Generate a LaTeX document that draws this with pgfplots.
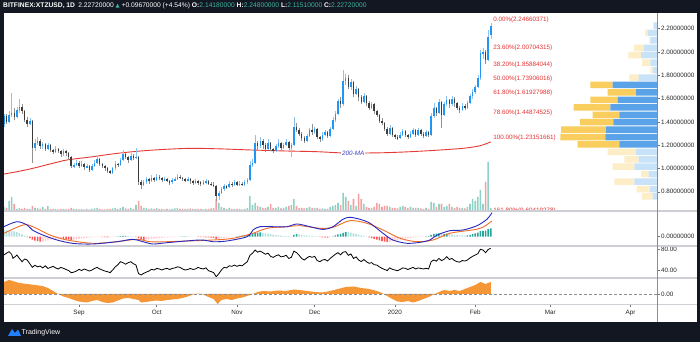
\documentclass[border=0pt]{standalone}
\usepackage{pgfplots}
\pgfplotsset{compat=1.18}
\usepackage{pgfplotstable}
\usepackage{fontspec}
\setmainfont{Liberation Sans}
\newfontfamily\dejavu{DejaVu Sans}

\definecolor{bgdark}{RGB}{19,23,34}
\definecolor{sepc}{RGB}{205,207,212}
\definecolor{fibred}{RGB}{230,50,50}
\definecolor{maRed}{RGB}{229,57,53}
\definecolor{malabel}{RGB}{60,60,200}
\definecolor{upBody}{RGB}{33,150,243}
\definecolor{upWick}{RGB}{140,195,240}
\definecolor{dnBody}{RGB}{60,60,60}
\definecolor{dnWick}{RGB}{145,145,145}
\definecolor{volUp}{RGB}{142,209,198}
\definecolor{volDn}{RGB}{244,160,160}
\definecolor{vpBlueS}{RGB}{91,163,232}
\definecolor{vpYelS}{RGB}{250,205,95}
\definecolor{vpBlueL}{RGB}{200,226,248}
\definecolor{vpYelL}{RGB}{253,238,200}
\definecolor{macdBlue}{RGB}{40,40,190}
\definecolor{sigOr}{RGB}{240,110,40}
\definecolor{histA}{RGB}{38,166,154}
\definecolor{histB}{RGB}{178,223,219}
\definecolor{histC}{RGB}{255,82,82}
\definecolor{histD}{RGB}{255,205,210}
\definecolor{oscOr}{RGB}{245,150,55}
\definecolor{tvteal}{RGB}{60,180,160}
\definecolor{tvblue}{RGB}{41,98,255}

\newcommand\fs{\fontsize{6.3}{7.5}\selectfont}

\pgfplotstableread{
d o h l c v hh hc
-29 1.38 1.47 1.36 1.45 4 6.5 1
-28 1.45 1.47 1.38 1.40 3 6.3 1
-27 1.40 1.49 1.39 1.46 10 6.0 1
-26 1.46 1.65 1.44 1.48 14 5.8 1
-25 1.48 1.52 1.42 1.44 7 5.2 1
-24 1.44 1.53 1.43 1.50 2 4.5 1
-23 1.50 1.60 1.48 1.53 3 3.5 1
-22 1.53 1.55 1.47 1.49 2 2.2 1
-21 1.49 1.50 1.40 1.42 3 1.0 1
-20 1.42 1.44 1.36 1.38 2 -0.5 2
-19 1.38 1.43 1.37 1.41 2 -1.5 2
-18 1.41 1.42 1.05 1.18 5 -3.0 2
-17 1.18 1.25 1.15 1.22 3 -4.0 2
-16 1.22 1.27 1.20 1.24 3 -4.5 2
-15 1.24 1.25 1.17 1.19 2 -5.0 2
-14 1.19 1.23 1.17 1.21 4 -4.8 3
-13 1.21 1.22 1.15 1.17 2 -4.2 3
-12 1.17 1.22 1.16 1.20 5 -3.8 3
-11 1.20 1.21 1.14 1.16 2 -3.0 3
-10 1.16 1.17 1.12 1.14 2 -2.5 3
-9 1.14 1.19 1.13 1.17 2 -2.2 3
-8 1.17 1.18 1.13 1.15 1.5 -2.0 3
-7 1.15 1.16 1.10 1.12 2 -2.0 3
-6 1.12 1.17 1.11 1.15 2 -2.2 2
-5 1.15 1.16 1.11 1.13 1.5 -2.8 2
-4 1.13 1.14 1.08 1.10 2 -3.0 2
-3 1.10 1.11 1.00 1.02 3 -3.3 2
-2 1.02 1.05 1.00 1.03 2 -3.0 3
-1 1.03 1.07 1.02 1.05 2 -2.6 3
0 1.05 1.06 1.00 1.02 1.5 -2.2 3
1 1.02 1.06 1.01 1.04 2 -1.9 3
2 1.04 1.05 0.99 1.01 1.5 -1.6 3
3 1.01 1.04 1.00 1.02 2 -1.3 3
4 1.02 1.03 0.97 0.99 1.5 -1.0 3
5 0.99 1.04 0.98 1.02 2 -0.8 3
6 1.02 1.07 1.01 1.05 2.5 -0.5 3
7 1.05 1.10 1.04 1.08 3 -0.3 3
8 1.08 1.09 1.02 1.04 2 -0.3 3
9 1.04 1.05 1.00 1.02 1.5 -0.4 2
10 1.02 1.03 0.98 1.00 1.5 -0.5 2
11 1.00 1.01 0.96 0.98 2 -0.6 2
12 0.98 0.99 0.95 0.96 2 -0.5 3
13 0.96 1.01 0.95 1.00 2.5 -0.3 3
14 1.00 1.06 0.99 1.04 3 0.1 0
15 1.04 1.05 1.01 1.03 2 0.3 0
16 1.03 1.09 1.02 1.07 3 0.5 0
17 1.07 1.16 1.06 1.12 4 0.7 0
18 1.12 1.13 1.08 1.10 2.5 0.8 0
19 1.10 1.11 1.05 1.07 2 0.7 1
20 1.07 1.13 1.06 1.11 3 0.5 1
21 1.11 1.12 1.07 1.09 2 0.3 1
22 1.09 1.175 1.08 1.10 6 -0.2 2
23 1.10 1.11 0.86 0.88 10 -1.5 2
24 0.88 0.90 0.82 0.86 5 -2.8 2
25 0.86 0.90 0.85 0.88 3 -3.3 2
26 0.88 0.93 0.87 0.91 3 -3.0 3
27 0.91 0.92 0.87 0.89 2 -2.6 3
28 0.89 0.94 0.88 0.92 2.5 -2.2 3
29 0.92 0.93 0.88 0.90 2 -1.9 3
30 0.90 0.95 0.89 0.93 3 -1.6 3
31 0.93 0.94 0.90 0.92 2 -1.3 3
32 0.92 0.93 0.88 0.90 2 -1.1 3
33 0.90 0.93 0.89 0.91 1.5 -0.9 3
34 0.91 0.92 0.88 0.89 2 -0.7 3
35 0.89 0.90 0.86 0.88 1.5 -0.6 3
36 0.88 0.92 0.87 0.90 2 -0.4 3
37 0.90 0.93 0.89 0.91 2.5 -0.3 3
38 0.91 0.95 0.90 0.93 3 -0.1 3
39 0.93 0.94 0.91 0.92 2 0.1 0
40 0.92 0.93 0.89 0.91 2 0.2 0
41 0.91 0.92 0.88 0.90 2 0.3 0
42 0.90 0.93 0.89 0.91 2 0.3 1
43 0.91 0.92 0.87 0.89 2.5 0.2 1
44 0.89 0.90 0.86 0.88 2 0.1 1
45 0.88 0.91 0.87 0.89 2 0.05 1
46 0.89 0.90 0.86 0.88 2 -0.2 2
47 0.88 0.89 0.85 0.87 2 -0.4 2
48 0.87 0.90 0.86 0.88 1.5 -0.5 2
49 0.88 0.91 0.87 0.89 2 -0.6 2
50 0.89 0.90 0.86 0.87 2 -0.8 2
51 0.87 0.88 0.85 0.86 2.5 -1.0 2
52 0.86 0.88 0.84 0.85 3 -1.3 2
53 0.85 0.86 0.72 0.76 12 -2.2 2
54 0.76 0.81 0.73 0.79 8 -2.0 3
55 0.79 0.84 0.78 0.82 4 -1.6 3
56 0.82 0.87 0.81 0.85 3 -1.2 3
57 0.85 0.86 0.82 0.84 2 -0.9 3
58 0.84 0.89 0.83 0.87 3 -0.6 3
59 0.87 0.88 0.84 0.86 2 -0.3 3
60 0.86 0.90 0.85 0.88 2 0.1 0
61 0.88 0.89 0.85 0.86 2 0.4 0
62 0.86 0.89 0.85 0.87 2 0.7 0
63 0.87 0.88 0.85 0.86 1.5 1.0 0
64 0.86 0.90 0.85 0.88 2 1.2 0
65 0.88 0.92 0.87 0.90 3 1.5 0
66 0.90 1.06 0.89 1.03 15 2.2 0
67 1.03 1.08 1.01 1.05 6 3.0 0
68 1.05 1.29 1.04 1.22 8 3.8 0
69 1.22 1.24 1.16 1.19 5 4.0 0
70 1.19 1.27 1.18 1.24 4 4.2 0
71 1.24 1.25 1.17 1.20 3 3.8 1
72 1.20 1.22 1.14 1.17 3 3.3 1
73 1.17 1.25 1.16 1.22 4 2.9 1
74 1.22 1.23 1.15 1.17 7 2.5 1
75 1.17 1.18 1.13 1.15 3 2.0 1
76 1.15 1.21 1.14 1.19 3 1.6 1
77 1.19 1.25 1.18 1.22 4 1.3 1
78 1.22 1.23 1.16 1.18 2.5 1.0 1
79 1.18 1.22 1.17 1.20 3 0.8 1
80 1.20 1.25 1.19 1.23 4 0.6 1
81 1.23 1.24 1.16 1.18 5 0.5 1
82 1.18 1.22 1.10 1.20 6 0.4 1
83 1.20 1.44 1.19 1.36 12 1.8 0
84 1.36 1.39 1.31 1.33 5 2.6 0
85 1.33 1.35 1.28 1.30 3 2.3 1
86 1.30 1.31 1.24 1.26 3 1.8 1
87 1.26 1.28 1.22 1.24 2.5 1.3 1
88 1.24 1.30 1.23 1.28 3 1.0 1
89 1.28 1.35 1.27 1.33 4 0.9 1
90 1.33 1.38 1.29 1.31 3 0.8 1
91 1.31 1.36 1.30 1.34 3 0.6 1
92 1.34 1.35 1.25 1.27 3 0.2 1
93 1.27 1.28 1.23 1.25 2 -0.3 2
94 1.25 1.31 1.24 1.29 2.5 -0.7 2
95 1.29 1.33 1.28 1.31 2 -0.8 2
96 1.31 1.32 1.26 1.28 2 -1.0 2
97 1.28 1.36 1.27 1.34 4 -0.6 3
98 1.34 1.44 1.33 1.42 5 0.2 0
99 1.42 1.49 1.40 1.47 6 1.2 0
100 1.47 1.60 1.46 1.58 8 2.2 0
101 1.58 1.61 1.52 1.55 6 2.8 0
102 1.55 1.845 1.54 1.75 18 3.8 0
103 1.75 1.81 1.72 1.78 14 4.6 0
104 1.78 1.80 1.68 1.70 10 4.5 1
105 1.70 1.77 1.67 1.74 6 4.0 1
106 1.74 1.75 1.61 1.64 12 3.2 1
107 1.64 1.71 1.63 1.68 5 2.6 1
108 1.68 1.69 1.58 1.61 17 2.0 1
109 1.61 1.63 1.55 1.57 12 1.4 1
110 1.57 1.65 1.56 1.62 7 0.8 1
111 1.62 1.63 1.54 1.56 4 0.2 1
112 1.56 1.58 1.50 1.52 3 -0.6 2
113 1.52 1.57 1.51 1.55 3 -1.4 2
114 1.55 1.56 1.47 1.49 4 -2.2 2
115 1.49 1.50 1.44 1.46 8 -3.0 2
116 1.46 1.47 1.39 1.41 7 -3.8 2
117 1.41 1.43 1.37 1.39 4 -4.5 2
118 1.39 1.40 1.32 1.34 5 -5.0 2
119 1.34 1.36 1.28 1.30 5 -5.3 2
120 1.30 1.37 1.29 1.35 4 -5.2 3
121 1.35 1.36 1.27 1.29 3 -4.8 3
122 1.29 1.30 1.25 1.27 3 -4.2 3
123 1.27 1.29 1.245 1.26 2.5 -3.6 3
124 1.26 1.31 1.25 1.29 4 -3.0 3
125 1.29 1.34 1.28 1.32 5 -2.5 3
126 1.32 1.33 1.27 1.29 4 -2.0 3
127 1.29 1.30 1.25 1.27 3 -1.6 3
128 1.27 1.32 1.26 1.30 4 -1.2 3
129 1.30 1.35 1.29 1.33 3 -0.9 3
130 1.33 1.34 1.27 1.29 3 -0.6 3
131 1.29 1.35 1.28 1.33 3 -0.4 3
132 1.33 1.34 1.28 1.30 2.5 -0.2 3
133 1.30 1.31 1.26 1.28 2 -0.1 3
134 1.28 1.33 1.27 1.31 3 0.2 0
135 1.31 1.32 1.27 1.29 2 0.6 0
136 1.29 1.48 1.28 1.45 9 1.8 0
137 1.45 1.56 1.43 1.52 8 2.8 0
138 1.52 1.53 1.45 1.48 4 3.0 0
139 1.48 1.60 1.47 1.57 7 3.3 0
140 1.57 1.58 1.35 1.46 7 2.8 1
141 1.46 1.57 1.45 1.55 4 2.9 0
142 1.55 1.62 1.54 1.59 5 3.1 0
143 1.59 1.60 1.52 1.55 7 2.6 1
144 1.55 1.62 1.54 1.60 4 2.3 1
145 1.60 1.61 1.53 1.56 3 1.9 1
146 1.56 1.57 1.50 1.52 4 1.6 1
147 1.52 1.54 1.48 1.50 3 1.3 1
148 1.50 1.56 1.49 1.54 3 1.2 1
149 1.54 1.55 1.50 1.52 2.5 1.1 1
150 1.52 1.58 1.51 1.56 4 1.3 0
151 1.56 1.64 1.55 1.62 7 1.9 0
152 1.62 1.68 1.60 1.66 12 2.6 0
153 1.66 1.72 1.64 1.70 10 3.2 0
154 1.70 1.80 1.69 1.78 14 4.0 0
155 1.78 2.02 1.76 1.99 21 5.5 0
156 1.99 2.03 1.94 2.00 7 5.8 0
157 2.00 2.02 1.90 1.93 29 6.0 0
158 1.93 2.19 1.92 2.13 49 7.5 0
159 2.1418 2.248 2.1151 2.2272 3 8.3 0
}\candles

\pgfplotstableread{
d p
-29 0.952
-20 0.990
-10 1.045
-4.6 1.073
5 1.100
13 1.125
20.8 1.144
30 1.160
42.9 1.173
55 1.168
66 1.159
80 1.150
91.9 1.144
102.7 1.133
115 1.134
124 1.140
135.5 1.153
148.3 1.173
154.8 1.195
159 1.228
}\maTab

\pgfplotstableread{
d m
-29 10
-24 15
-20 11.7
-18 6.7
-14 1.7
-8.5 -3.3
-2.3 -6.7
5.4 -7.3
14.7 -5
20.8 -2.6
24.7 -5
28.6 -7.3
34 -6
46.7 -3.3
51.7 -5
57.1 -4.3
64.9 0
67.2 6.7
69.9 10
74.9 10
80.3 10
84.2 12.7
89.2 10
94.2 7.3
98.1 10
101.9 17.4
104.6 19.4
108.5 17.4
112.4 13.4
117.4 3.4
121.2 -3.3
126.6 -6.6
131.7 -5.6
135.5 -3.3
138.2 1.5
143.2 6
148.3 6.7
153.7 11
157.5 17.4
159.5 24
}\macdTab

\pgfplotstableread{
d s
-29 3.4
-21.6 11.7
-17.8 10
-11.2 1.7
-4.6 -3.3
5.4 -6.6
14.7 -5
22.4 -2.6
27.4 -5
34 -5
51.7 -3.3
59.5 -1.6
67.2 3.4
72.6 8.4
80.3 10
85.3 11
93.1 8.4
98.1 9.4
104.6 16
111.2 13.4
117.4 6.7
124 -1.6
130.5 -5
136.7 -3.3
143.2 3.4
149.8 6
153.7 7.5
156 9.5
159.5 15.7
}\sigTab

\pgfplotstableread{
d r
-29 68.6
-28 72
-27 74.9
-26 70
-25.5 62.3
-24.5 66
-24 68.6
-23 62
-22 55.8
-21 61
-20 59
-19 52
-18 45.1
-17 49
-16 46
-15 47.6
-14 44
-13 48
-12 43
-11 45
-10 47
-9 44
-8 42
-7 45
-6 43.2
-5 41
-4 39
-3 34.9
-2 36
-1 38
0 41.3
1 39
2 42
3 40
4 38
5 40
6 43
7 45
8 42
9 40
10 38
11 36.8
12 35
13 40
14 46
15 50
16 55.8
17 53.9
18 51
19 54
20 55.8
21 52
22 49.5
23 33
24 30.5
25 33.7
26 36
27 38
28 41.3
29 40
30 43
31 42
32 40
33 42
34 43.2
35 41
36 43
37 44
38 46
39 45.1
40 42
41 40
42 41
43 43
44 41
45 42
46 45
47 43
48 42
49 44
50 38.7
51 37
52 35
53 27.2
54 33
55 40
56 45
57 44
58 48
59 47
60 49.5
61 47
62 49
63 48
64 52
65 55.8
66 68
67 72
68 78
69 74
70 76
71 73
72 70
73 72
74 66
75 64
76 67
77 69
78 65
79 66
80 68
81 62
82 64.2
83 76
84 73
85 68
86 62
87 59
88 63
89 66
90 64.2
91 66
92 58
93 55.8
94 59
95 60
96 57
97 62
98 66
99 70
100 73
101 69
102 74
103 75
104 68
105 70.5
106 62
107 65
108 59
109 56
110 60
111 55.8
112 52.8
113 54
114 50
115 49.5
116 46
117 43.2
118 41
119 39
120 44
121 41.3
122 40
123 38.7
124 41
125 44
126 43.2
127 41
128 43
129 45
130 42
131 44
132 43
133 42
134 43.2
135 42
136 56
137 59
138 57
139 62
140 58
141 60.4
142 65.4
143 60
144 62
145 58
146 55.8
147 55
148 58
149 57
150 59
151 63
152 66
153 68.6
154 71
155 79.4
156 78
157 73
158 79
159 81.3
}\rsiTab

\pgfplotstableread{
d o
-29 0
-29 12
-27 14
-25 12.5
-23 11
-20 10
-17 9
-14 8
-12 6
-10 3
-8 0
-6 -2.5
-4 -4
-2 -6
0 -7.5
3 -8.5
5 -7
7 -6
9 -8
11 -9
13 -8.5
15 -6.5
17 -4.5
19 -4
21 -5
23 -6
24 -8.5
26 -8
28 -7
30 -6.5
32 -7
34 -6
36 -5.5
38 -5
40 -4
42 -2.5
44 -0.5
46 0.5
48 -0.5
50 -3
52 -5
53.5 -10
55 -6
57 -5
59 -6
61 -4.5
63 -3.5
65 -2
67 0
69 2
71 3
74 2.5
77 3.5
80 3
83 4.5
85 4
88 3
91 2
94 1.5
97 3
100 5
103 7
106 7.5
109 6
112 5
115 3
117 1
119 -2
121 -5
123 -7.5
125 -8
127 -7
129 -8.5
131 -7
133 -5
135 -3
137 -0.5
139 2
141 4
143 3
145 4
147 3
149 5
151 7
153 9
155 12
157 10
158 11
159 12
159 0
}\oscTab

\pgfplotstableread{
p bs bl ys yl
2.227 0 3 0 1
2.163 0 9.3 0 2.7
2.099 0 6.7 0 1
2.036 0 13.3 0 9.7
1.972 0 16 0 12.7
1.908 0 6.7 0 8.3
1.844 0 4.3 0 2.4
1.780 0 18.3 0 9.4
1.717 44.3 0 22.4 0
1.653 21 0 28.3 0
1.589 39.3 0 27.4 0
1.525 46.7 0 36.6 0
1.461 37.7 0 26.6 0
1.398 43.7 0 33.3 0
1.334 51 0 45 0
1.270 51.7 0 45 0
1.206 37.7 0 41.6 0
1.142 0 21 0 28.3
1.079 0 18.3 0 14.4
1.015 0 22.7 0 21.6
0.951 0 8.3 0 7.7
0.887 0 22.7 0 20
0.823 0 7 0 13.3
0.760 0 4.3 0 10.7
}\vpTab

\pgfplotsset{
  panel/.style={scale only axis, width=653pt, xmin=-28.96, xmax=223.2,
    anchor=south west,
    axis line style={draw=none}, xtick=\empty, ytick pos=right,
    tick style={draw=black!55, line width=0.4pt}, major tick length=2.5pt,
    tick align=outside,
    yticklabel style={font=\fs, text=black!85, inner sep=1.5pt},
    /pgf/number format/assume math mode=true, clip mode=individual},
  up/.style={restrict expr to domain={\thisrow{c}-\thisrow{o}}{0:10}},
  dn/.style={restrict expr to domain={\thisrow{c}-\thisrow{o}}{-10:-0.00001}},
  candle/.style n args={2}{draw=none, mark=none, #1,
    error bars/.cd, y dir=both, y explicit, error mark=none,
    error bar style={#2}},
}
\tikzset{fib/.style={anchor=base west, inner sep=0pt, yshift=2pt, text=fibred, font=\fs}}

\begin{document}
\begin{tikzpicture}
\useasboundingbox (0,0) rectangle (700pt,342pt);
\fill[bgdark] (0,0) rectangle (700pt,342pt);
\fill[white] (3.5pt,20pt) rectangle (696.5pt,329pt);

% header
\node[anchor=west, text=white, font=\fontsize{6.7}{7.5}\selectfont, inner sep=0pt] at (3pt,336pt)
 {\textbf{BITFINEX:XTZUSD, 1D}\enspace 2.22720000 {\color{tvteal}\dejavu\fontsize{5.3}{6}\selectfont ▲} +0.09670000 (+4.54\%) \textbf{O:}{\color{tvteal}2.14180000} \textbf{H:}{\color{tvteal}2.24800000} \textbf{L:}{\color{tvteal}2.11510000} \textbf{C:}{\color{tvteal}2.22720000}};

% volume
\begin{axis}[panel, at={(4pt,131pt)}, height=197pt, ymin=0, ymax=197, hide axis]
\addplot[ybar, bar width=0.62, bar shift=0pt, fill=volUp, draw=none, up] table[x=d,y=v]{\candles};
\addplot[ybar, bar width=0.62, bar shift=0pt, fill=volDn, draw=none, dn] table[x=d,y=v]{\candles};
\end{axis}

% volume profile
\begin{axis}[panel, at={(4pt,131pt)}, height=197pt, hide axis, xmin=0, xmax=653, x dir=reverse,
  ymin=0.635, ymax=2.326, xbar stacked, bar width=0.056]
\addplot[fill=vpBlueS, draw=none] table[x=bs,y=p]{\vpTab};
\addplot[fill=vpBlueL, draw=none] table[x=bl,y=p]{\vpTab};
\addplot[fill=vpYelS, draw=none] table[x=ys,y=p]{\vpTab};
\addplot[fill=vpYelL, draw=none] table[x=yl,y=p]{\vpTab};
\end{axis}

% main price panel
\begin{axis}[panel, at={(4pt,131pt)}, height=197pt, ymin=0.635, ymax=2.326,
  ytick={0.8,1.0,1.2,1.4,1.6,1.8,2.0,2.2},
  yticklabels={0.80000000,1.00000000,1.20000000,1.40000000,1.60000000,1.80000000,2.00000000,2.20000000}]
\addplot[maRed, line width=0.9pt, smooth] table[x=d,y=p]{\maTab};
\addplot[candle={up}{draw=upWick, line width=0.5pt}]
  table[x=d, y expr=(\thisrow{h}+\thisrow{l})/2, y error expr=(\thisrow{h}-\thisrow{l})/2]{\candles};
\addplot[candle={dn}{draw=dnWick, line width=0.5pt}]
  table[x=d, y expr=(\thisrow{h}+\thisrow{l})/2, y error expr=(\thisrow{h}-\thisrow{l})/2]{\candles};
\addplot[candle={up}{draw=upBody, line width=1.5pt}]
  table[x=d, y expr=(\thisrow{o}+\thisrow{c})/2, y error expr={max(abs(\thisrow{c}-\thisrow{o})/2,0.004)}]{\candles};
\addplot[candle={dn}{draw=dnBody, line width=1.5pt}]
  table[x=d, y expr=(\thisrow{o}+\thisrow{c})/2, y error expr={max(abs(\thisrow{c}-\thisrow{o})/2,0.004)}]{\candles};
\node[fill=white, inner sep=0.8pt, text=malabel, font=\fs\itshape] at (axis cs:105.9,1.134) {200-MA};
\node[fib] at (axis cs:159.9,2.24660371) {0.00\%(2.24660371)};
\node[fib] at (axis cs:159.9,2.00704315) {23.60\%(2.00704315)};
\node[fib] at (axis cs:159.9,1.85884044) {38.20\%(1.85884044)};
\node[fib] at (axis cs:159.9,1.73906016) {50.00\%(1.73906016)};
\node[fib] at (axis cs:159.9,1.61927988) {61.80\%(1.61927988)};
\node[fib] at (axis cs:159.9,1.44874525) {78.60\%(1.44874525)};
\node[fib] at (axis cs:159.9,1.23151661) {100.00\%(1.23151661)};
\node[fib] at (axis cs:159.9,0.60419278) {161.80\%(0.60419278)};
\end{axis}
\fill[white] (3.5pt,64pt) rectangle (656.5pt,130pt);

% MACD
\begin{axis}[panel, at={(4pt,96pt)}, height=35pt, ymin=-9.3, ymax=25.7,
  ytick={0}, yticklabels={0.00000000}]
\addplot[ybar, bar width=0.6, bar shift=0pt, fill=histA, draw=none, restrict expr to domain={\thisrow{hc}}{0:0}] table[x=d,y=hh]{\candles};
\addplot[ybar, bar width=0.6, bar shift=0pt, fill=histB, draw=none, restrict expr to domain={\thisrow{hc}}{1:1}] table[x=d,y=hh]{\candles};
\addplot[ybar, bar width=0.6, bar shift=0pt, fill=histC, draw=none, restrict expr to domain={\thisrow{hc}}{2:2}] table[x=d,y=hh]{\candles};
\addplot[ybar, bar width=0.6, bar shift=0pt, fill=histD, draw=none, restrict expr to domain={\thisrow{hc}}{3:3}] table[x=d,y=hh]{\candles};
\addplot[sigOr, line width=0.9pt, smooth] table[x=d,y=s]{\sigTab};
\addplot[macdBlue, line width=0.9pt, smooth] table[x=d,y=m]{\macdTab};
\end{axis}

% RSI
\begin{axis}[panel, at={(4pt,64pt)}, height=32pt, ymin=24.8, ymax=85.7,
  ytick={40,80}, yticklabels={40.00,80.00}]
\addplot[black, line width=0.8pt] table[x=d,y=r]{\rsiTab};
\end{axis}

% oscillator
\begin{axis}[panel, at={(4pt,37pt)}, height=27pt, ymin=-11, ymax=16,
  ytick={0}, yticklabels={0.00},
  xtick={0,30,61,91,122,153,182,213}, xticklabels={Sep,Oct,Nov,Dec,2020,Feb,Mar,Apr},
  xtick pos=bottom, xticklabel style={font=\fs, text=black!85, inner sep=2pt}]
\addplot[fill=oscOr, draw=none] table[x=d,y=o]{\oscTab};
\addplot[black!45, line width=0.5pt, dash pattern=on 2.5pt off 2.5pt] coordinates {(-28.96,0) (223.2,0)};
\end{axis}

% separators
\draw[sepc, line width=1.6pt] (3.5pt,131pt) -- (696.5pt,131pt);
\draw[sepc, line width=1.6pt] (3.5pt,96pt) -- (696.5pt,96pt);
\draw[sepc, line width=1.6pt] (3.5pt,64pt) -- (696.5pt,64pt);
\draw[sepc, line width=1pt] (3.5pt,37pt) -- (696.5pt,37pt);
\draw[black!45, line width=0.7pt] (657pt,20pt) -- (657pt,329pt);

% footer logo
\fill[tvblue!80!cyan] (8pt,6pt) -- (12pt,13pt) -- (15pt,9pt) -- (18pt,12.5pt) -- (21pt,6pt) -- cycle;
\node[anchor=west, text=white, font=\fontsize{7}{8}\selectfont, inner sep=0pt] at (21.5pt,9.5pt) {TradingView};
\end{tikzpicture}
\end{document}
